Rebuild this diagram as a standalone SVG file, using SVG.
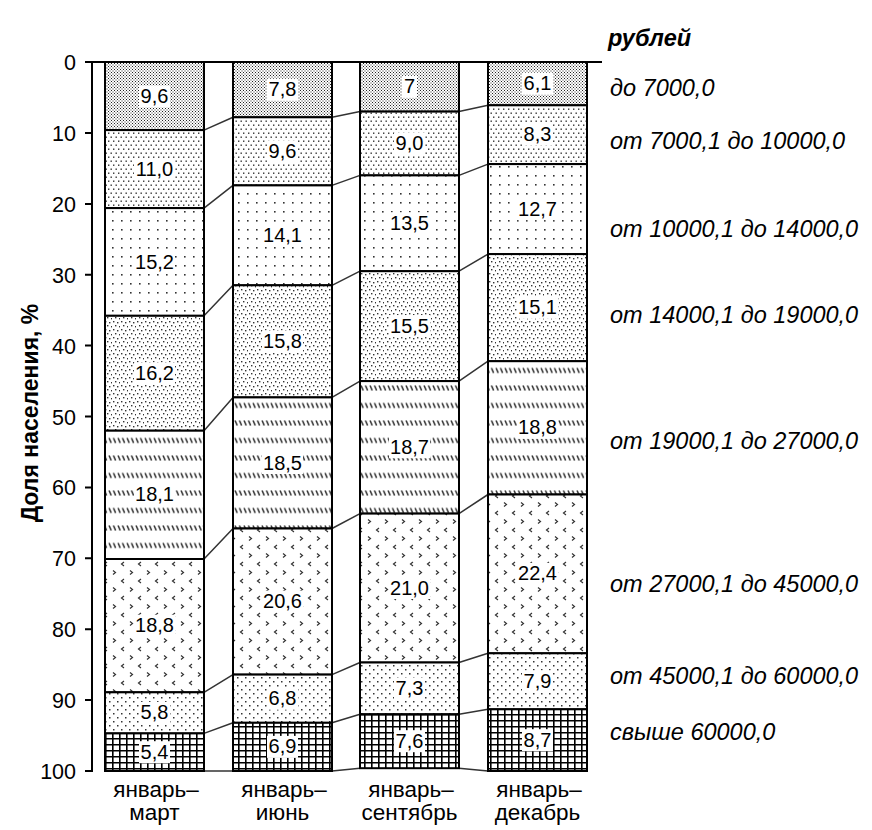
<svg xmlns="http://www.w3.org/2000/svg" width="872" height="830" viewBox="0 0 872 830">
<style>
text{font-family:"Liberation Sans",Arial,sans-serif;fill:#000}
.tick{font-size:21.5px;text-anchor:end}
.lbl{font-size:20px;text-anchor:middle}
.cat{font-size:22.5px;text-anchor:middle}
.leg{font-size:23.5px;font-style:italic}
.seg{stroke:#000;stroke-width:2}
.box{fill:#fff}
.sl{stroke:#333;stroke-width:1.5;fill:none}
.ax{stroke:#000;stroke-width:2;fill:none}
</style>
<defs>
<pattern id="p1" patternUnits="userSpaceOnUse" width="3" height="3"><rect width="3" height="3" fill="#fff"/><rect x="0" y="0" width="1" height="1" fill="#222"/><rect x="1.5" y="1.5" width="1" height="1" fill="#222"/></pattern>
<pattern id="p2" patternUnits="userSpaceOnUse" width="5" height="8"><rect width="5" height="8" fill="#fff"/><rect x="0.5" y="0.5" width="1.4" height="1.4" fill="#333"/><rect x="3" y="4.5" width="1.4" height="1.4" fill="#333"/></pattern>
<pattern id="p3" patternUnits="userSpaceOnUse" width="9" height="9"><rect width="9" height="9" fill="#fff"/><rect x="4" y="4" width="1.6" height="1.6" fill="#333"/></pattern>
<pattern id="p4" patternUnits="userSpaceOnUse" width="8" height="8"><rect width="8" height="8" fill="#fff"/><rect x="1" y="1" width="1.4" height="1.4" fill="#333"/><rect x="5" y="2" width="1.4" height="1.4" fill="#333"/><rect x="3" y="5" width="1.4" height="1.4" fill="#333"/><rect x="7" y="6" width="1.4" height="1.4" fill="#333"/></pattern>
<pattern id="p5" patternUnits="userSpaceOnUse" width="4.5" height="17.5"><rect width="4.5" height="17.5" fill="#fff"/><path d="M1,0.5 L3.2,5.5" stroke="#222" stroke-width="1.4"/></pattern>
<pattern id="p6" patternUnits="userSpaceOnUse" width="17" height="17"><rect width="17" height="17" fill="#fff"/><path d="M5,1 L2.5,3 L5,5" stroke="#333" stroke-width="1.2" fill="none"/><path d="M11,9.5 L13.5,11.5 L11,13.5" stroke="#333" stroke-width="1.2" fill="none"/></pattern>
<pattern id="p7" patternUnits="userSpaceOnUse" width="8" height="8"><rect width="8" height="8" fill="#fff"/><rect x="1" y="1" width="1.5" height="1.5" fill="#333"/><rect x="5" y="5" width="1.5" height="1.5" fill="#333"/></pattern>
<pattern id="p8" patternUnits="userSpaceOnUse" width="7" height="6"><rect width="7" height="6" fill="#fff"/><path d="M0.8,0 V6 M0,0.8 H7" stroke="#000" stroke-width="1.6"/></pattern>
</defs>
<rect width="872" height="830" fill="#fff"/>

<g id="axis">
<path class="ax" d="M92,62 V772 M85,62 H92 M85,133 H92 M85,204 H92 M85,274.7 H92 M85,345.6 H92 M85,416.5 H92 M85,487.4 H92 M85,558.3 H92 M85,629.2 H92 M85,700.1 H92 M85,771 H92"/>
<text class="tick" x="76" y="70">0</text>
<text class="tick" x="76" y="141">10</text>
<text class="tick" x="76" y="212">20</text>
<text class="tick" x="76" y="282.7">30</text>
<text class="tick" x="76" y="353.6">40</text>
<text class="tick" x="76" y="424.5">50</text>
<text class="tick" x="76" y="495.4">60</text>
<text class="tick" x="76" y="566.3">70</text>
<text class="tick" x="76" y="637.2">80</text>
<text class="tick" x="76" y="708.1">90</text>
<text class="tick" x="76" y="779">100</text>
<text x="0" y="0" font-size="23" font-weight="bold" text-anchor="middle" transform="translate(38,413) rotate(-90)">Доля населения, %</text>
</g>

<g id="connectors">
<path class="sl" d="M204,130.1 L233,117.3 M332,117.3 L360,111.6 M459,111.6 L488,105.3"/>
<path class="sl" d="M204,208.1 L233,185.4 M332,185.4 L360,175.4 M459,175.4 L488,164.1"/>
<path class="sl" d="M204,315.8 L233,285.3 M332,285.3 L360,271.2 M459,271.2 L488,254.1"/>
<path class="sl" d="M204,430.7 L233,397.4 M332,397.4 L360,381.1 M459,381.1 L488,361.2"/>
<path class="sl" d="M204,559 L233,528.5 M332,528.5 L360,513.6 M459,513.6 L488,494.5"/>
<path class="sl" d="M204,692.3 L233,674.6 M332,674.6 L360,662.5 M459,662.5 L488,653.3"/>
<path class="sl" d="M204,733.4 L233,722.8 M332,722.8 L360,714.3 M459,714.3 L488,709.3"/>
<path class="sl" d="M204,771 L233,771 M332,771 L360,768.2 M459,768.2 L488,771"/>
<path class="ax" d="M92,62 H602"/>
</g>

<g id="bar1">
<rect class="seg" x="105" y="62" width="99" height="68.1" fill="url(#p1)"/>
<rect class="seg" x="105" y="130.1" width="99" height="78" fill="url(#p2)"/>
<rect class="seg" x="105" y="208.1" width="99" height="107.7" fill="url(#p3)"/>
<rect class="seg" x="105" y="315.8" width="99" height="114.9" fill="url(#p4)"/>
<rect class="seg" x="105" y="430.7" width="99" height="128.3" fill="url(#p5)"/>
<rect class="seg" x="105" y="559" width="99" height="133.3" fill="url(#p6)"/>
<rect class="seg" x="105" y="692.3" width="99" height="41.1" fill="url(#p7)"/>
<rect class="seg" x="105" y="733.4" width="99" height="37.6" fill="url(#p8)"/>
<rect class="box" x="139" y="85.5" width="31" height="22"/><text class="lbl" x="154.5" y="103">9,6</text>
<rect class="box" x="134" y="158.1" width="41" height="22"/><text class="lbl" x="154.5" y="175.6">11,0</text>
<rect class="box" x="134" y="251" width="41" height="22"/><text class="lbl" x="154.5" y="268.5">15,2</text>
<rect class="box" x="134" y="362.3" width="41" height="22"/><text class="lbl" x="154.5" y="379.8">16,2</text>
<rect class="box" x="134" y="483.9" width="41" height="22"/><text class="lbl" x="154.5" y="501.4">18,1</text>
<rect class="box" x="134" y="614.7" width="41" height="22"/><text class="lbl" x="154.5" y="632.2">18,8</text>
<rect class="box" x="139" y="701.9" width="31" height="22"/><text class="lbl" x="154.5" y="719.4">5,8</text>
<rect class="box" x="139" y="741.2" width="31" height="22"/><text class="lbl" x="154.5" y="758.7">5,4</text>
</g>

<g id="bar2">
<rect class="seg" x="233" y="62" width="99" height="55.3" fill="url(#p1)"/>
<rect class="seg" x="233" y="117.3" width="99" height="68.1" fill="url(#p2)"/>
<rect class="seg" x="233" y="185.4" width="99" height="99.9" fill="url(#p3)"/>
<rect class="seg" x="233" y="285.3" width="99" height="112.1" fill="url(#p4)"/>
<rect class="seg" x="233" y="397.4" width="99" height="131.1" fill="url(#p5)"/>
<rect class="seg" x="233" y="528.5" width="99" height="146.1" fill="url(#p6)"/>
<rect class="seg" x="233" y="674.6" width="99" height="48.2" fill="url(#p7)"/>
<rect class="seg" x="233" y="722.8" width="99" height="48.2" fill="url(#p8)"/>
<rect class="box" x="267" y="78.7" width="31" height="22"/><text class="lbl" x="282.5" y="96.2">7,8</text>
<rect class="box" x="267" y="140.4" width="31" height="22"/><text class="lbl" x="282.5" y="157.9">9,6</text>
<rect class="box" x="262" y="224.4" width="41" height="22"/><text class="lbl" x="282.5" y="241.9">14,1</text>
<rect class="box" x="262" y="330.4" width="41" height="22"/><text class="lbl" x="282.5" y="347.9">15,8</text>
<rect class="box" x="262" y="452" width="41" height="22"/><text class="lbl" x="282.5" y="469.5">18,5</text>
<rect class="box" x="262" y="590.6" width="41" height="22"/><text class="lbl" x="282.5" y="608.1">20,6</text>
<rect class="box" x="267" y="687.7" width="31" height="22"/><text class="lbl" x="282.5" y="705.2">6,8</text>
<rect class="box" x="267" y="735.9" width="31" height="22"/><text class="lbl" x="282.5" y="753.4">6,9</text>
</g>

<g id="bar3">
<rect class="seg" x="360" y="62" width="99" height="49.6" fill="url(#p1)"/>
<rect class="seg" x="360" y="111.6" width="99" height="63.8" fill="url(#p2)"/>
<rect class="seg" x="360" y="175.4" width="99" height="95.8" fill="url(#p3)"/>
<rect class="seg" x="360" y="271.2" width="99" height="109.9" fill="url(#p4)"/>
<rect class="seg" x="360" y="381.1" width="99" height="132.5" fill="url(#p5)"/>
<rect class="seg" x="360" y="513.6" width="99" height="148.9" fill="url(#p6)"/>
<rect class="seg" x="360" y="662.5" width="99" height="51.8" fill="url(#p7)"/>
<rect class="seg" x="360" y="714.3" width="99" height="53.9" fill="url(#p8)"/>
<rect class="box" x="402" y="75.8" width="15" height="22"/><text class="lbl" x="409.5" y="93.3">7</text>
<rect class="box" x="394" y="132.5" width="31" height="22"/><text class="lbl" x="409.5" y="150">9,0</text>
<rect class="box" x="389" y="212.3" width="41" height="22"/><text class="lbl" x="409.5" y="229.8">13,5</text>
<rect class="box" x="389" y="315.1" width="41" height="22"/><text class="lbl" x="409.5" y="332.6">15,5</text>
<rect class="box" x="389" y="436.3" width="41" height="22"/><text class="lbl" x="409.5" y="453.8">18,7</text>
<rect class="box" x="389" y="577" width="41" height="22"/><text class="lbl" x="409.5" y="594.5">21,0</text>
<rect class="box" x="394" y="677.4" width="31" height="22"/><text class="lbl" x="409.5" y="694.9">7,3</text>
<rect class="box" x="394" y="730.2" width="31" height="22"/><text class="lbl" x="409.5" y="747.7">7,6</text>
</g>

<g id="bar4">
<rect class="seg" x="488" y="62" width="99" height="43.3" fill="url(#p1)"/>
<rect class="seg" x="488" y="105.3" width="99" height="58.8" fill="url(#p2)"/>
<rect class="seg" x="488" y="164.1" width="99" height="90" fill="url(#p3)"/>
<rect class="seg" x="488" y="254.1" width="99" height="107.1" fill="url(#p4)"/>
<rect class="seg" x="488" y="361.2" width="99" height="133.3" fill="url(#p5)"/>
<rect class="seg" x="488" y="494.5" width="99" height="158.8" fill="url(#p6)"/>
<rect class="seg" x="488" y="653.3" width="99" height="56" fill="url(#p7)"/>
<rect class="seg" x="488" y="709.3" width="99" height="61.7" fill="url(#p8)"/>
<rect class="box" x="522" y="72.6" width="31" height="22"/><text class="lbl" x="537.5" y="90.1">6,1</text>
<rect class="box" x="522" y="123.7" width="31" height="22"/><text class="lbl" x="537.5" y="141.2">8,3</text>
<rect class="box" x="517" y="198.1" width="41" height="22"/><text class="lbl" x="537.5" y="215.6">12,7</text>
<rect class="box" x="517" y="296.7" width="41" height="22"/><text class="lbl" x="537.5" y="314.2">15,1</text>
<rect class="box" x="517" y="416.9" width="41" height="22"/><text class="lbl" x="537.5" y="434.4">18,8</text>
<rect class="box" x="517" y="562.9" width="41" height="22"/><text class="lbl" x="537.5" y="580.4">22,4</text>
<rect class="box" x="522" y="670.3" width="31" height="22"/><text class="lbl" x="537.5" y="687.8">7,9</text>
<rect class="box" x="522" y="729.2" width="31" height="22"/><text class="lbl" x="537.5" y="746.7">8,7</text>
</g>

<g id="categories">
<text class="cat" x="156" y="797">январь–</text><text class="cat" x="154.5" y="820">март</text>
<text class="cat" x="284" y="797">январь–</text><text class="cat" x="282.5" y="820">июнь</text>
<text class="cat" x="411" y="797">январь–</text><text class="cat" x="409.5" y="820">сентябрь</text>
<text class="cat" x="539" y="797">январь–</text><text class="cat" x="537.5" y="820">декабрь</text>
</g>

<g id="legend">
<text class="leg" x="608" y="46" font-weight="bold">рублей</text>
<text class="leg" x="610" y="96">до 7000,0</text>
<text class="leg" x="610" y="149">от 7000,1 до 10000,0</text>
<text class="leg" x="610" y="237">от 10000,1 до 14000,0</text>
<text class="leg" x="610" y="323">от 14000,1 до 19000,0</text>
<text class="leg" x="610" y="449">от 19000,1 до 27000,0</text>
<text class="leg" x="610" y="592">от 27000,1 до 45000,0</text>
<text class="leg" x="610" y="684">от 45000,1 до 60000,0</text>
<text class="leg" x="610" y="740">свыше 60000,0</text>
</g>
</svg>
